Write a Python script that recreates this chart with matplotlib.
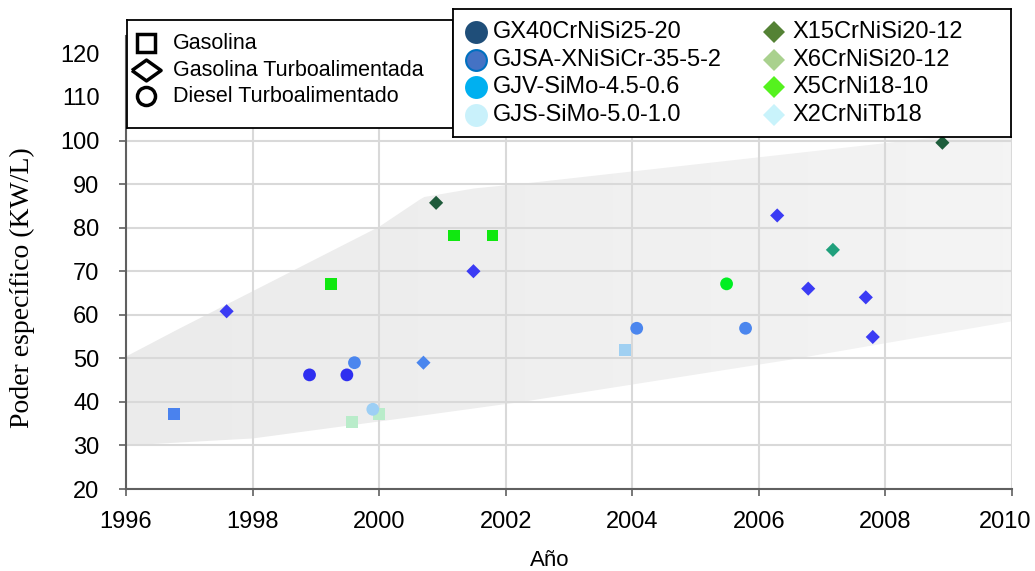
import numpy as np
import matplotlib.pyplot as plt
import matplotlib.transforms as mtransforms
from matplotlib.colors import LinearSegmentedColormap

# puntos con marcador cuadrado (gasolina)
sq_anio = [1996.76, 1999.24, 1999.57, 2000.00, 2001.18, 2001.79, 2003.89]
sq_valor = [37.2, 67.1, 35.4, 37.2, 78.2, 78.2, 52.0]
sq_color = ["#4a82ee", "#10e810", "#b9ecca", "#b9ecca", "#10e810", "#10e810", "#a0d0f2"]

# puntos con marcador rombo (gasolina turboalimentada)
di_anio = [1997.59, 2000.70, 2000.90, 2001.49, 2006.29, 2006.78, 2007.17, 2007.69, 2007.80, 2008.90]
di_valor = [60.8, 49.0, 85.7, 70.0, 82.8, 66.0, 74.9, 64.0, 54.9, 99.5]
di_color = ["#3b3bf4", "#4a86ee", "#1e5a3a", "#3b3bf4", "#3b3bf4", "#3b3bf4", "#20a07c",
            "#3b3bf4", "#3b3bf4", "#1e5e3c"]

# puntos con marcador circulo (diesel turboalimentado)
ci_anio = [1998.90, 1999.49, 1999.61, 1999.90, 2004.07, 2005.49, 2005.79]
ci_valor = [46.2, 46.2, 49.0, 38.3, 56.9, 67.1, 56.9]
ci_color = ["#2f2ff0", "#2f2ff0", "#4b86ee", "#9dcff5", "#4b86ee", "#00ee22", "#4b86ee"]

# banda gris de tendencia
banda_anio = [1996.0, 1996.8, 2000.0, 2000.7, 2001.5, 2002.4, 2008.0, 2010.0]
banda_sup = [50.4, 56.5, 80.2, 87.0, 89.0, 90.3, 99.4, 102.7]
banda_inf_anio = [1996.0, 1998.0, 2000.0, 2002.3, 2006.5, 2010.0]
banda_inf = [30.0, 31.6, 35.5, 40.1, 49.7, 58.5]

# leyendas
tipos = ["Gasolina", "Gasolina Turboalimentada", "Diesel Turboalimentado"]
mat_circulo = ["GX40CrNiSi25-20", "GJSA-XNiSiCr-35-5-2", "GJV-SiMo-4.5-0.6", "GJS-SiMo-5.0-1.0"]
col_circulo = ["#1f4e79", "#4472c4", "#00b0f0", "#c9f1fb"]
mat_rombo = ["X15CrNiSi20-12", "X6CrNiSi20-12", "X5CrNi18-10", "X2CrNiTb18"]
col_rombo = ["#548235", "#a9d18e", "#55f21e", "#c9f3fb"]

anios = list(range(1996, 2011, 2))
valores_y = list(range(20, 121, 10))

plt.rcParams['font.family'] = ['Liberation Sans', 'DejaVu Sans']

fig = plt.figure(figsize=(10.35, 5.71), dpi=100)
ax = fig.add_axes([126 / 1035, 82 / 571, 886 / 1035, 453 / 571])
ax.set_xlim(1996, 2010)
ax.set_ylim(20, 124)

# banda con degradado suave
xs = np.linspace(1996, 2010, 200)
y_inf = np.interp(xs, banda_inf_anio, banda_inf)
y_sup = np.interp(xs, banda_anio, banda_sup)
poly = ax.fill_between(xs, y_inf, y_sup, color="none", lw=0)
cmap = LinearSegmentedColormap.from_list("gris", ["#ebebeb", "#f4f4f4"])
grad = ax.imshow(np.linspace(0, 1, 100).reshape(1, -1), cmap=cmap, aspect="auto",
                 extent=[1996, 2010, 20, 124], zorder=0.5)
grad.set_clip_path(poly.get_paths()[0], transform=ax.transData)

ax.set_xticks(anios)
ax.set_yticks(valores_y)
ax.grid(color="#d9d9d9", lw=1.5, zorder=1)
ax.set_axisbelow(True)
for s in ["top", "right"]:
    ax.spines[s].set_visible(False)
for s in ["left", "bottom"]:
    ax.spines[s].set_color("#606060")
    ax.spines[s].set_linewidth(1.5)
ax.tick_params(colors="#606060", labelcolor="black", labelsize=17, length=5, width=1.2)
ax.tick_params(axis="x", pad=11)
ax.tick_params(axis="y", pad=14)
# las marcas de 110 y 120 quedan tapadas por la leyenda
for t in ax.yaxis.get_major_ticks()[-2:]:
    t.tick1line.set_visible(False)
# la etiqueta 2010 va un poco hacia la izquierda para no salirse
ult = ax.xaxis.get_major_ticks()[-1].label1
ult.set_transform(ult.get_transform() + mtransforms.ScaledTranslation(-7 / 100, 0, fig.dpi_scale_trans))

ax.scatter(sq_anio, sq_valor, s=8.5 ** 2, c=sq_color, marker="s", zorder=3, lw=0)
ax.scatter(di_anio, di_valor, s=7.2 ** 2, c=di_color, marker="D", zorder=3, lw=0)
ax.scatter(ci_anio, ci_valor, s=9.2 ** 2, c=ci_color, marker="o", zorder=3, lw=0)

fig.text(22 / 1035, 1 - 288 / 571, "Poder específico (KW/L)", rotation=90, ha="center",
         va="center", fontsize=20, family=["Liberation Serif", "DejaVu Serif"])
fig.text(550 / 1035, 1 - 561 / 571, "Año", ha="center", va="center", fontsize=16)

# leyenda de tipos de motor
lg1 = fig.add_axes([127 / 1035, 1 - 128 / 571, 326 / 1035, 108 / 571])
lg1.set_xlim(0, 1)
lg1.set_ylim(0, 1)
lg1.set_xticks([])
lg1.set_yticks([])
for s in lg1.spines.values():
    s.set_linewidth(1.3)
filas1 = [0.787, 0.537, 0.296]
rombo_ancho = [(-1.4, 0), (0, 1), (1.4, 0), (0, -1), (-1.4, 0)]
marcas1 = ["s", rombo_ancho, "o"]
tam1 = [13, 21, 13]
for i in range(3):
    lg1.plot(0.058, filas1[i], marker=marcas1[i], ms=tam1[i], mfc="white", mec="black", mew=2.5)
    lg1.text(0.141, filas1[i], tipos[i], va="center", fontsize=15.5)

# leyenda de materiales
lg2 = fig.add_axes([453 / 1035, 1 - 137 / 571, 558 / 1035, 128 / 571])
lg2.set_xlim(0, 1)
lg2.set_ylim(0, 1)
lg2.set_xticks([])
lg2.set_yticks([])
for s in lg2.spines.values():
    s.set_linewidth(1.3)
filas2 = [0.82, 0.60, 0.39, 0.17]
for i in range(4):
    borde = "#0070c0" if i == 1 else col_circulo[i]
    lg2.plot(0.041, filas2[i], marker="o", ms=15, mfc=col_circulo[i], mec=borde, mew=1.5)
    lg2.text(0.072, filas2[i], mat_circulo[i], va="center", fontsize=17)
    lg2.plot(0.575, filas2[i], marker="D", ms=11, mfc=col_rombo[i], mec=col_rombo[i], mew=0)
    lg2.text(0.609, filas2[i], mat_rombo[i], va="center", fontsize=17)

fig.savefig("out.png", dpi=100)
